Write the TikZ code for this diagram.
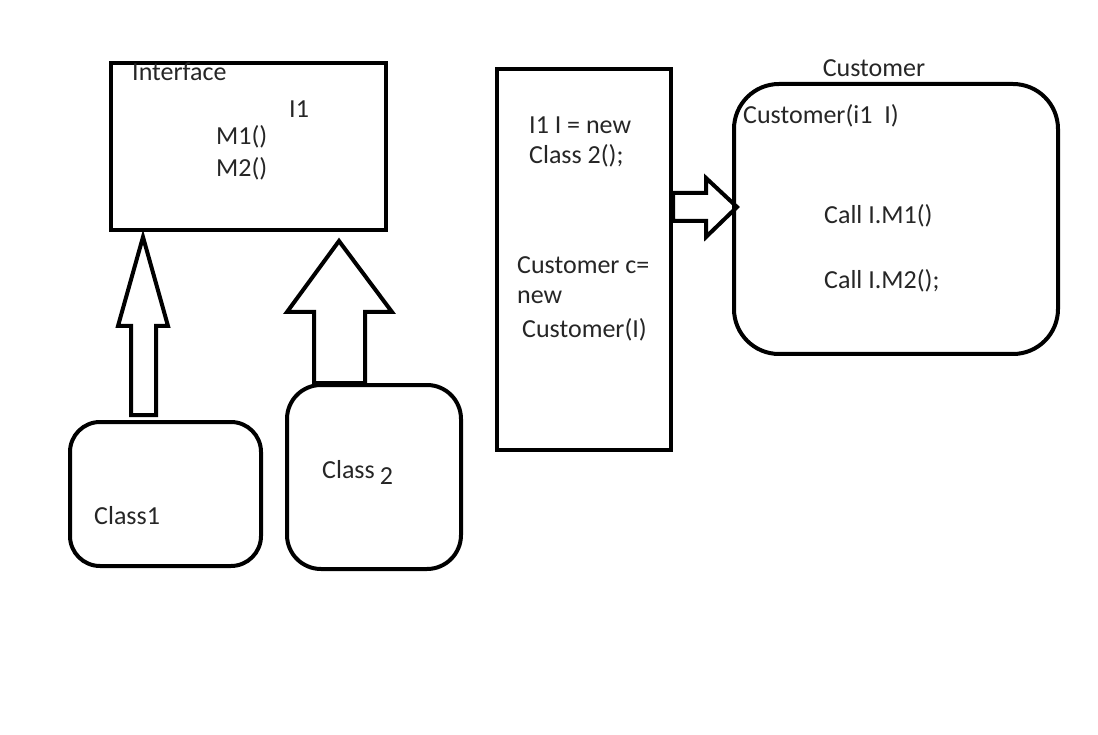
\documentclass[tikz,border=0pt]{standalone}
\usepackage{fontspec}
\setmainfont{Carlito}
\usepackage{tikz}
\usetikzlibrary{calc}

\tikzset{
	txt/.style={anchor=west,inner sep=0pt,text=black!85,font=\fontsize{26}{30}\selectfont},
	line/.style={line width=4pt,line join=miter}
}

\begin{document}
\begin{tikzpicture}[x=1pt,y=-1pt]
	\useasboundingbox (0,0) rectangle (1098,735);
	
	% interface box
	\draw[line] (111,63) rectangle (386,230);
	\node[txt] (iface) at (132,72) {Interface};
	\node[txt] (ione) at (289,109) {I1};
	\node[txt] (mone) at (216,137) {M1()};
	\node[txt] (mtwo) at (216,169) {M2()};
	
	% class boxes
	\draw[line,rounded corners=30pt] (70,422) rectangle (261,566);
	\node[txt] (cls1) at (94,516) {Class1};
	\draw[line,rounded corners=34pt] (287,385) rectangle (461,569);
	\node[txt] (cls2) at (322,472) {Class\kern5pt\raisebox{-6pt}{2}};
	
	% arrows up
	\coordinate (T1) at (143,237);
	\draw[line] (T1) -- (168,326) -- (156,326) -- (156,415) -- (131,415) -- (131,326) -- (118,326) -- cycle;
	\coordinate (T2) at (339,241);
	\draw[line] (T2) -- (392,312) -- (365,312) -- (365,383) -- (314,383) -- (314,312) -- (287,312) -- cycle;
	
	% main box
	\draw[line] (497,69) rectangle (671,450);
	\node[txt] (l1) at (529,125) {I1 I = new};
	\node[txt] (l2) at (529,156) {Class 2();};
	\node[txt] (l3) at (517,265) {Customer c=};
	\node[txt] (l4) at (517,297) {new};
	\node[txt] (l5) at (522,330) {Customer(I)};
	
	% arrow right
	\coordinate (T3) at (737,207);
	\draw[line] (T3) -- (706,237) -- (706,221) -- (673,221) -- (673,193) -- (706,193) -- (706,178) -- cycle;
	
	% customer box
	\node[txt,anchor=center] (cust) at (874,68) {Customer};
	\draw[line,rounded corners=45pt] (734,84) rectangle (1058,354);
	\node[txt] (ctor) at (743,116) {Customer(i1\ \ I)};
	\node[txt] (call1) at (824,216) {Call I.M1()};
	\node[txt] (call2) at (824,281) {Call I.M2();};
	
\end{tikzpicture}
\end{document}
